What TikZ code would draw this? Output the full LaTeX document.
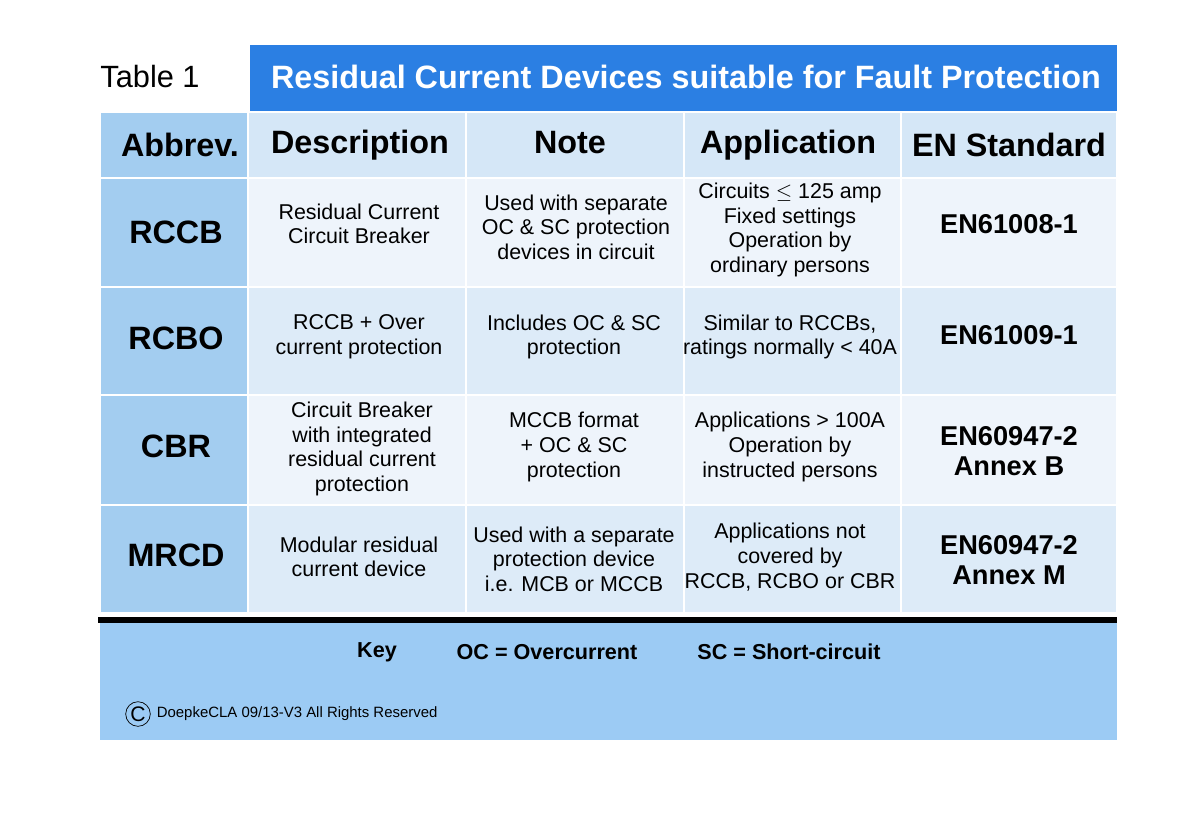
\documentclass[tikz,border=0pt]{standalone}
\usepackage{fontspec}
\setmainfont{Liberation Sans}
\definecolor{titleblue}{HTML}{2B7FE3}
\definecolor{abbrblue}{HTML}{A3CDF0}
\definecolor{headblue}{HTML}{D5E7F7}
\definecolor{cellpale}{HTML}{EEF4FB}
\definecolor{cellmid}{HTML}{DDEBF8}
\definecolor{keyblue}{HTML}{9CCBF4}
\tikzset{
  cell/.style={draw=white, line width=1.5pt},
  bodytxt/.style={align=center, font=\fontsize{12.2}{14}\selectfont},
  headtxt/.style={font=\fontsize{18.4}{21}\selectfont\bfseries},
  abbrtxt/.style={font=\fontsize{18.4}{21}\selectfont\bfseries},
  stdtxt/.style={align=center, font=\fontsize{15.5}{17.5}\selectfont\bfseries},
  keytxt/.style={font=\fontsize{12.3}{14}\selectfont\bfseries}
}
\begin{document}
\begin{tikzpicture}[x=0.02cm, y=-0.02cm]
\useasboundingbox [fill=white] (0,0) rectangle (1200,816);

% title bar
\fill [titleblue] (250,45) rectangle (1117,112);
\node (title) [text=white, font=\fontsize{18.4}{21}\selectfont\bfseries] at (686,77) {Residual Current Devices suitable for Fault Protection};
\node (tab) [font=\fontsize{17.5}{20}\selectfont] at (150,77) {Table 1};

% header row
\draw [cell, fill=abbrblue] (100,112) rectangle (248,178);
\foreach \xa/\xb in {248/466,466/684,684/901,901/1117}
{
  \draw [cell, fill=headblue] (\xa,112) rectangle (\xb,178);
}
\node (hab) [headtxt] at (180,145) {Abbrev.};
\node (hde) [headtxt] at (360,145) {Description};
\node (hno) [headtxt] at (570,143) {Note};
\node (hap) [headtxt] at (788,145) {Application};
\node (hen) [headtxt] at (1009,145) {EN Standard};

% body rows
\foreach \ya/\yb/\c in {178/287/cellpale,287/395/cellmid,395/505/cellpale,505/613/cellmid}
{
  \draw [cell, fill=abbrblue] (100,\ya) rectangle (248,\yb);
  \foreach \xa/\xb in {248/466,466/684,684/901,901/1117}
  {
    \draw [cell, fill=\c] (\xa,\ya) rectangle (\xb,\yb);
  }
}

\node (a1) [abbrtxt] at (176,232) {RCCB};
\node (d1) [bodytxt] at (359,224) {Residual Current\\Circuit Breaker};
\node (n1) [bodytxt] at (576,227) {Used with separate\\OC \& SC protection\\devices in circuit};
\node (p1) [bodytxt] at (790,230) {Circuits $\leq$ 125 amp\\Fixed settings\\Operation by\\ordinary persons};
\node (e1) [stdtxt] at (1009,224) {EN61008-1};

\node (a2) [abbrtxt] at (176,338) {RCBO};
\node (d2) [bodytxt] at (359,337) {RCCB + Over\\current protection};
\node (n2) [bodytxt] at (574,337) {Includes OC \& SC\\protection};
\node (p2) [bodytxt] at (790,337) {Similar to RCCBs,\\ratings normally < 40A};
\node (e2) [stdtxt] at (1009,335) {EN61009-1};

\node (a3) [abbrtxt] at (176,446) {CBR};
\node (d3) [bodytxt] at (362,449) {Circuit Breaker\\with integrated\\residual current\\protection};
\node (n3) [bodytxt] at (574,447) {MCCB format\\+ OC \& SC\\protection};
\node (p3) [bodytxt] at (790,447) {Applications > 100A\\Operation by\\instructed persons};
\node (e3) [stdtxt] at (1009,451) {EN60947-2\\Annex B};

\node (a4) [abbrtxt] at (176,555) {MRCD};
\node (d4) [bodytxt] at (359,557) {Modular residual\\current device};
\node (n4) [bodytxt] at (574,559) {Used with a separate\\protection device\\i.e. MCB or MCCB};
\node (p4) [bodytxt] at (790,557) {Applications not\\covered by\\RCCB, RCBO or CBR};
\node (e4) [stdtxt] at (1009,560) {EN60947-2\\Annex M};

% key area
\fill [keyblue] (100,620) rectangle (1117,740);
\draw [line width=3pt] (98,620) -- (1117,620);
\node (key) [keytxt] at (377,652) {Key};
\node (koc) [keytxt] at (547,652) {OC = Overcurrent};
\node (ksc) [keytxt] at (789,652) {SC = Short-circuit};
\node (copy) [circle, draw, inner sep=0pt, minimum size=14pt, font=\fontsize{12}{12}\selectfont] at (138,714) {C};
\node (cpr) [anchor=west, font=\fontsize{8.5}{10}\selectfont] at (copy.east) {DoepkeCLA 09/13-V3 All Rights Reserved};
\end{tikzpicture}
\end{document}
